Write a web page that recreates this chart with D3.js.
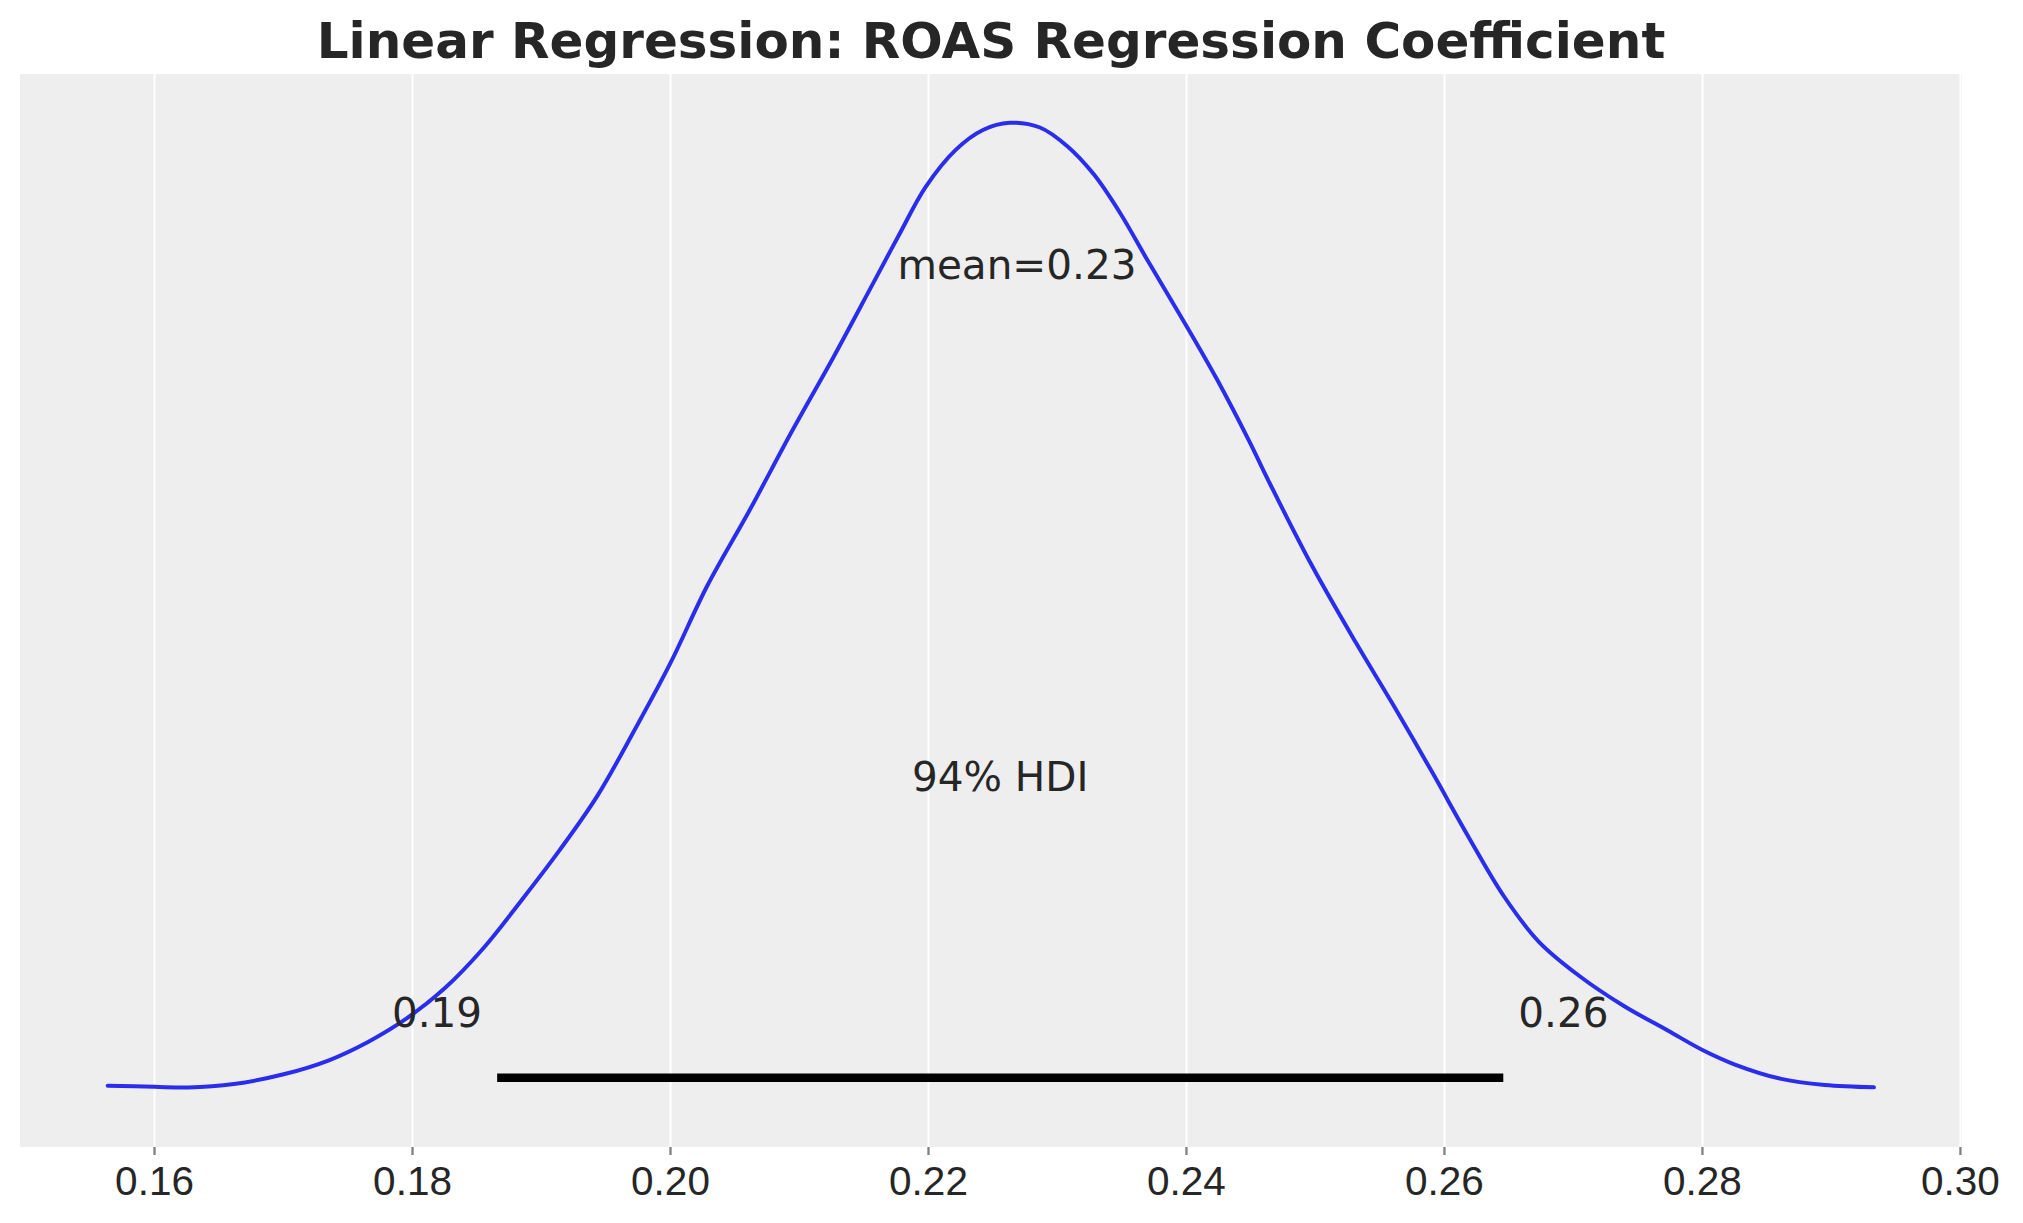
<!DOCTYPE html>
<html lang="en">
<head>
  <meta charset="UTF-8">
  <title>Linear Regression: ROAS Regression Coefficient</title>
  <style>
    body {
      margin: 0;
      background: #ffffff;
      font-family: "DejaVu Sans", sans-serif;
    }
    svg {
      display: block;
    }
    .x-axis .domain {
      display: none;
    }
    .x-axis text {
      font-size: 40.5px;
      fill: #262626;
    }
    .x-axis line {
      stroke: #808080;
      stroke-width: 2.3;
    }
    .grid .domain {
      display: none;
    }
    .grid line {
      stroke: #ffffff;
      stroke-width: 2;
    }
  </style>
</head>
<body>
  <svg id="chart" width="2023" height="1223"></svg>

  <script src="https://d3js.org/d3.v7.min.js"></script>
  <script>
    // posterior samples of the ROAS coefficient, summarised as a KDE
    const kdeX = [0.15641, 0.16002, 0.16264, 0.1662, 0.17005, 0.17361, 0.17659, 0.17953,
      0.18251, 0.18548, 0.18845, 0.1914, 0.19438, 0.19735, 0.20002, 0.2029, 0.20616,
      0.20943, 0.21269, 0.21566, 0.21774, 0.21981, 0.22217, 0.22426, 0.22633, 0.22868,
      0.23078, 0.23287, 0.23494, 0.23702, 0.23998, 0.24236, 0.24496, 0.24628, 0.24974,
      0.25318, 0.25597, 0.25907, 0.26186, 0.26462, 0.26736, 0.2705, 0.27395, 0.27742,
      0.28, 0.28261, 0.28605, 0.28953, 0.29333];
    const kdeDensity = [0.243, 0.222, 0.208, 0.277, 0.466, 0.744, 1.095, 1.543,
      2.135, 2.906, 3.841, 4.815, 5.892, 7.213, 8.465, 9.982, 11.443,
      12.976, 14.437, 15.826, 16.8, 17.739, 18.469, 18.851, 18.991, 18.899,
      18.539, 17.982, 17.216, 16.313, 15.06, 14.016, 12.764, 12.08, 10.38,
      8.866, 7.698, 6.354, 5.107, 3.942, 3.046, 2.38, 1.796, 1.309,
      0.945, 0.651, 0.382, 0.257, 0.212];

    const meanValue = 0.2269;
    const hdiBounds = [0.1866, 0.2646];
    const hdiLabels = ["0.19", "0.26"];
    const hdiProb = "94%";
    const xTicks = [0.16, 0.18, 0.20, 0.22, 0.24, 0.26, 0.28, 0.30];

    const svg = d3.select("#chart");
    const margin = { top: 74, right: 61, bottom: 76, left: 20 };
    const width = +svg.attr("width") - margin.left - margin.right;
    const height = +svg.attr("height") - margin.top - margin.bottom;

    const peak = d3.max(kdeDensity);
    const plotHeight = peak * 1.05;   // top of the y range, arviz places labels relative to it

    const x = d3.scaleLinear().domain([0.14961, 0.30016]).range([0, width]);
    const y = d3.scaleLinear().domain([-0.05 * peak, plotHeight]).range([height, 0]);

    const g = svg.append("g").attr("transform", `translate(${margin.left},${margin.top})`);

    g.append("rect")
      .attr("width", width)
      .attr("height", height)
      .attr("fill", "#eeeeee");

    // vertical grid only, the y axis is hidden
    g.append("g")
      .attr("class", "grid")
      .call(d3.axisBottom(x).tickValues(xTicks).tickSize(height).tickFormat(""));

    const xAxis = g.append("g")
      .attr("class", "x-axis")
      .attr("transform", `translate(0,${height})`)
      .call(d3.axisBottom(x).tickValues(xTicks).tickSize(8).tickPadding(10)
        .tickFormat(d3.format(".2f")));
    xAxis.selectAll("text").attr("dy", null).attr("y", 48);

    const line = d3.line()
      .x((d, i) => x(kdeX[i]))
      .y(d => y(d))
      .curve(d3.curveCatmullRom.alpha(0.5));

    g.append("path")
      .datum(kdeDensity)
      .attr("fill", "none")
      .attr("stroke", "#2a2eec")
      .attr("stroke-width", 4)
      .attr("stroke-linecap", "round")
      .attr("d", line);

    // HDI bar
    g.append("line")
      .attr("x1", x(hdiBounds[0]))
      .attr("x2", x(hdiBounds[1]))
      .attr("y1", y(plotHeight * 0.02))
      .attr("y2", y(plotHeight * 0.02))
      .attr("stroke", "#000000")
      .attr("stroke-width", 8.5);

    const labelStyle = sel => sel
      .attr("font-size", "40.5px")
      .attr("fill", "#262626");

    g.selectAll(".hdi-label")
      .data(hdiBounds)
      .join("text")
      .attr("class", "hdi-label")
      .attr("x", (d, i) => x(d) + (i === 0 ? -15 : 15))
      .attr("y", y(plotHeight * 0.07))
      .attr("text-anchor", (d, i) => i === 0 ? "end" : "start")
      .text((d, i) => hdiLabels[i])
      .call(labelStyle);

    g.append("text")
      .attr("x", x(d3.mean(hdiBounds)))
      .attr("y", y(plotHeight * 0.3))
      .attr("text-anchor", "middle")
      .text(`${hdiProb} HDI`)
      .call(labelStyle);

    g.append("text")
      .attr("x", x(meanValue))
      .attr("y", y(plotHeight * 0.8))
      .attr("text-anchor", "middle")
      .text(`mean=${meanValue.toFixed(2)}`)
      .call(labelStyle);

    svg.append("text")
      .attr("x", margin.left + width / 2)
      .attr("y", 58)
      .attr("text-anchor", "middle")
      .attr("font-size", "50px")
      .attr("font-weight", "bold")
      .attr("fill", "#262626")
      .text("Linear Regression: ROAS Regression Coefficient");
  </script>
</body>
</html>
